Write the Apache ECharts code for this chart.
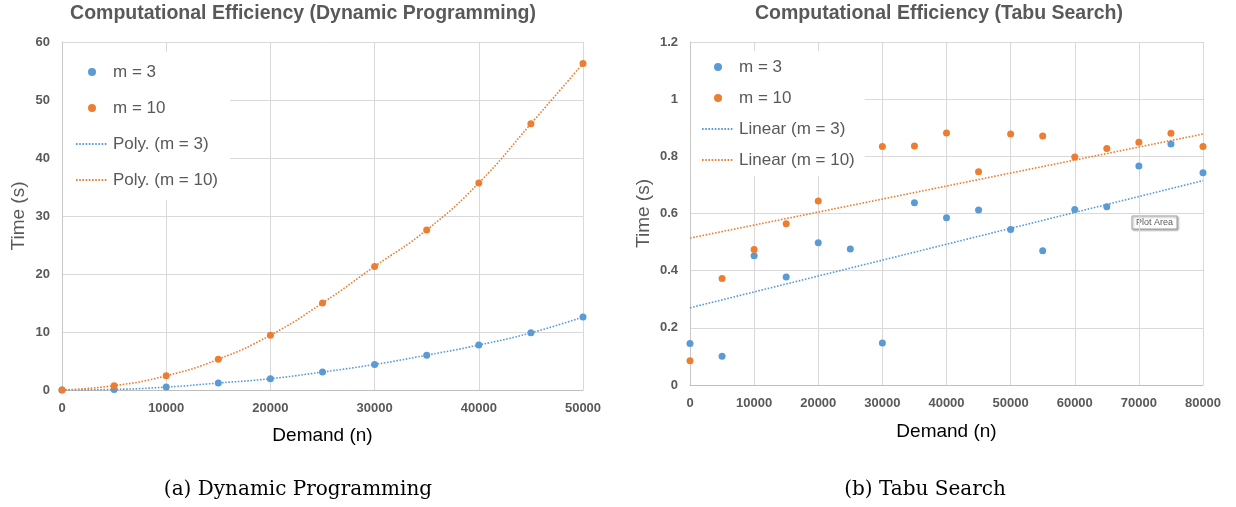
<!DOCTYPE html>
<html>
<head>
<meta charset="utf-8">
<script src="https://cdn.jsdelivr.net/npm/echarts@6/dist/echarts.min.js"></script>
<style>
html,body{margin:0;padding:0;background:#fff;}
#chart{width:1236px;height:507px;}
</style>
</head>
<body>
<div id="chart"></div>
<script>
// ---------- Data: Dynamic Programming ----------
const dpDemand = [0, 5000, 10000, 15000, 20000, 25000, 30000, 35000, 40000, 45000, 50000];
const dpM3 = [0, 0.1, 0.5, 1.2, 1.95, 3.1, 4.4, 6.0, 7.75, 9.85, 12.6];
const dpM10 = [0, 0.75, 2.45, 5.3, 9.45, 15.0, 21.3, 27.6, 35.7, 45.9, 56.3];

// ---------- Data: Tabu Search ----------
const tsDemand = [0, 5000, 10000, 15000, 20000, 25000, 30000, 35000, 40000, 45000, 50000, 55000, 60000, 65000, 70000, 75000, 80000];
const tsM3 = [0.145, 0.101, 0.452, 0.378, 0.498, 0.476, 0.147, 0.638, 0.585, 0.612, 0.544, 0.470, 0.614, 0.624, 0.766, 0.843, 0.743];
const tsM10 = [0.085, 0.373, 0.474, 0.564, 0.644, null, 0.834, 0.836, 0.882, 0.746, 0.878, 0.871, 0.798, 0.827, 0.849, 0.881, 0.834];
// linear trendline end points
const tsTrendX = [0, 80000];
const tsTrendM3 = [0.27, 0.715];
const tsTrendM10 = [0.514, 0.878];

const BLUE = '#5B9BD5', ORANGE = '#ED7D31';
const GRID = '#D9D9D9', LABEL = '#595959';
const SANS = '"Liberation Sans", Arial, sans-serif';

const zip = (xs, ys) => xs.map((x, i) => [x, ys[i]]).filter(p => p[1] !== null);

const chart = echarts.init(document.getElementById('chart'));

const axisLabel = {color: LABEL, fontSize: 13, fontWeight: 'bold', fontFamily: SANS};
const nameStyleX = {color: '#000', fontSize: 19, fontFamily: SANS};
const nameStyleY = {color: LABEL, fontSize: 19, fontFamily: SANS};

function xAx(idx, max, gap) {
  return {
    type: 'value', gridIndex: idx, min: 0, max: max, interval: 10000,
    name: 'Demand (n)', nameLocation: 'middle', nameGap: gap, nameTextStyle: nameStyleX,
    axisLine: {show: true, lineStyle: {color: '#BFBFBF', width: 1}},
    axisTick: {show: false},
    axisLabel: Object.assign({margin: 12, formatter: v => String(v)}, axisLabel),
    splitLine: {show: true, lineStyle: {color: GRID, width: 1}}
  };
}
function yAx(idx, max, interval, gap) {
  return {
    type: 'value', gridIndex: idx, min: 0, max: max, interval: interval,
    name: 'Time (s)', nameLocation: 'middle', nameGap: gap, nameTextStyle: nameStyleY,
    axisLine: {show: true, lineStyle: {color: '#C8C8C8', width: 1}}, axisTick: {show: false},
    axisLabel: Object.assign({margin: 12}, axisLabel),
    splitLine: {show: true, lineStyle: {color: GRID, width: 1}}
  };
}

const dotted = c => ({color: c, width: 1.6, type: [1.6, 1.6]});

const legendText = {color: LABEL, fontSize: 17, fontFamily: SANS, lineHeight: 20};
const lineItem = n => ({name: n, itemStyle: {opacity: 0}});

const option = {
  animation: false,
  backgroundColor: '#fff',
  grid: [
    {left: 62, top: 42, width: 521, height: 348},
    {left: 690, top: 42, width: 513, height: 343}
  ],
  xAxis: [xAx(0, 50000, 36), xAx(1, 80000, 37)],
  yAxis: [yAx(0, 60, 10, 34), yAx(1, 1.2, 0.2, 37)],
  legend: [
    {
      orient: 'vertical', left: 63, top: 52, padding: [10, 12, 10, 12],
      backgroundColor: '#fff', itemWidth: 32, itemHeight: 8, itemGap: 16,
      textStyle: legendText,
      data: [
        {name: 'm = 3', icon: 'circle'}, {name: 'm = 10', icon: 'circle'},
        lineItem('Poly. (m = 3)'), lineItem('Poly. (m = 10)')
      ],
      selectedMode: false
    },
    {
      orient: 'vertical', left: 691, top: 51, padding: [6, 10, 6, 10],
      backgroundColor: '#fff', itemWidth: 32, itemHeight: 8, itemGap: 11,
      textStyle: legendText,
      data: [
        {name: 'm = 3', icon: 'circle'}, {name: 'm = 10', icon: 'circle'},
        lineItem('Linear (m = 3)'), lineItem('Linear (m = 10)')
      ],
      selectedMode: false
    }
  ],
  series: [
    {name: 'Poly. (m = 3)', type: 'line', xAxisIndex: 0, yAxisIndex: 0, smooth: true, symbol: 'none',
     data: zip(dpDemand, dpM3), lineStyle: dotted(BLUE), itemStyle: {color: BLUE}, z: 2},
    {name: 'Poly. (m = 10)', type: 'line', xAxisIndex: 0, yAxisIndex: 0, smooth: true, symbol: 'none',
     data: zip(dpDemand, dpM10), lineStyle: dotted(ORANGE), itemStyle: {color: ORANGE}, z: 2},
    {name: 'm = 3', type: 'scatter', xAxisIndex: 0, yAxisIndex: 0, symbolSize: 7,
     data: zip(dpDemand, dpM3), itemStyle: {color: BLUE, opacity: 1}, z: 3},
    {name: 'm = 10', type: 'scatter', xAxisIndex: 0, yAxisIndex: 0, symbolSize: 7,
     data: zip(dpDemand, dpM10), itemStyle: {color: ORANGE, opacity: 1}, z: 3},

    {name: 'Linear (m = 3)', type: 'line', xAxisIndex: 1, yAxisIndex: 1, symbol: 'none',
     data: zip(tsTrendX, tsTrendM3), lineStyle: dotted(BLUE), itemStyle: {color: BLUE}, z: 2},
    {name: 'Linear (m = 10)', type: 'line', xAxisIndex: 1, yAxisIndex: 1, symbol: 'none',
     data: zip(tsTrendX, tsTrendM10), lineStyle: dotted(ORANGE), itemStyle: {color: ORANGE}, z: 2},
    {name: 'm = 3', type: 'scatter', xAxisIndex: 1, yAxisIndex: 1, symbolSize: 7,
     data: zip(tsDemand, tsM3), itemStyle: {color: BLUE, opacity: 1}, z: 3},
    {name: 'm = 10', type: 'scatter', xAxisIndex: 1, yAxisIndex: 1, symbolSize: 7,
     data: zip(tsDemand, tsM10), itemStyle: {color: ORANGE, opacity: 1}, z: 3}
  ],
  graphic: [
    {type: 'text', x: 303, y: 14, style: {text: 'Computational Efficiency (Dynamic Programming)',
      fill: LABEL, font: 'bold 19.5px ' + SANS, textAlign: 'center', textVerticalAlign: 'middle'}},
    {type: 'text', x: 939, y: 14, style: {text: 'Computational Efficiency (Tabu Search)',
      fill: LABEL, font: 'bold 19.5px ' + SANS, textAlign: 'center', textVerticalAlign: 'middle'}},
    {type: 'text', x: 298, y: 490, style: {text: '(a) Dynamic Programming',
      fill: '#000', font: '20px "DejaVu Serif", "Liberation Serif", serif', textAlign: 'center', textVerticalAlign: 'middle'}},
    {type: 'text', x: 925, y: 490, style: {text: '(b) Tabu Search',
      fill: '#000', font: '20px "DejaVu Serif", "Liberation Serif", serif', textAlign: 'center', textVerticalAlign: 'middle'}},
    {type: 'group', x: 1132, y: 216, z: 100, children: [
      {type: 'rect', shape: {x: 0, y: 0, width: 45, height: 13},
       style: {fill: '#fff', stroke: '#A6A6A6', lineWidth: 1, shadowBlur: 2, shadowOffsetX: 1, shadowOffsetY: 1, shadowColor: 'rgba(0,0,0,0.35)'}},
      {type: 'text', x: 22.5, y: 6.5, style: {text: 'Plot Area', fill: LABEL,
       font: '9px ' + SANS, textAlign: 'center', textVerticalAlign: 'middle'}}
    ]}
  ]
};
chart.setOption(option);
</script>
</body>
</html>
